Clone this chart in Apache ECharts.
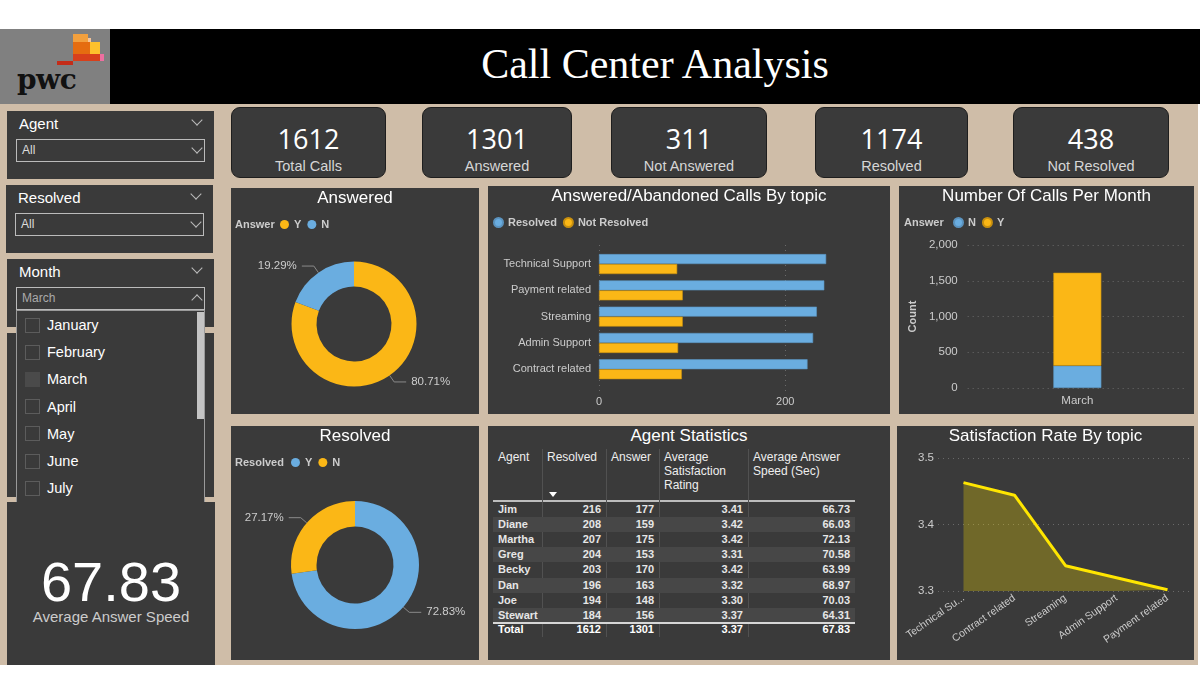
<!DOCTYPE html>
<html><head><meta charset="utf-8">
<script src="https://cdn.jsdelivr.net/npm/echarts@6/dist/echarts.min.js"></script>
<style>
body{margin:0;background:#fff;}
#page{position:relative;width:1200px;height:695px;overflow:hidden;background:#fff;font-family:'Liberation Sans',Arial,sans-serif;}
.chev{position:absolute;width:7px;height:7px;border-right:1.3px solid #bbb;border-bottom:1.3px solid #bbb;transform:rotate(45deg);}
.chevup{position:absolute;width:7px;height:7px;border-left:1.3px solid #bbb;border-top:1.3px solid #bbb;transform:rotate(45deg);}
</style></head><body><div id="page"></div>
<script>
// ---------------- data ----------------
const kpiLabels = ['Total Calls','Answered','Not Answered','Resolved','Not Resolved'];
const kpiValues = [1612,1301,311,1174,438];
const answerCats = ['Y','N'];
const answerCounts = [1301,311];
const resolvedCats = ['Y','N'];
const resolvedCounts = [1174,438];
const topics = ['Technical Support','Payment related','Streaming','Admin Support','Contract related'];
const topicResolved = [244,242,234,230,224];
const topicNotResolved = [84,90,90,85,89];
const months = ['March'];
const monthN = [311];
const monthY = [1301];
const satTopics = ['Technical Support','Contract related','Streaming','Admin Support','Payment related'];
const satRates = [3.463,3.444,3.338,3.32,3.302];
const tableHeaders = ['Agent','Resolved','Answer','Average Satisfaction Rating','Average Answer Speed (Sec)'];
const agents = ['Jim','Diane','Martha','Greg','Becky','Dan','Joe','Stewart'];
const agentResolved = [216,208,207,204,203,196,194,184];
const agentAnswer = [177,159,175,153,170,163,148,156];
const agentSat = ['3.41','3.42','3.42','3.31','3.42','3.32','3.30','3.37'];
const agentSpeed = ['66.73','66.03','72.13','70.58','63.99','68.97','70.03','64.31'];
const tableTotals = ['Total','1612','1301','3.37','67.83'];
const slicerLabels = ['Agent','Resolved','Month'];
const slicerValues = ['All','All','March'];
const monthOptions = ['January','February','March','April','May','June','July'];
const avgAnswerSpeed = '67.83';
const avgAnswerSpeedLabel = 'Average Answer Speed';

// ---------------- helpers ----------------
const page = document.getElementById('page');
const FONT = "'Liberation Sans', Arial, sans-serif";
const BLUE = '#6AADE0', YELLOW = '#FBB716', PANEL = '#3a3a3a';
function el(css, text, parent){
  const d = document.createElement('div');
  d.style.cssText = 'position:absolute;' + css;
  if (text != null) d.textContent = text;
  (parent || page).appendChild(d);
  return d;
}

// background / header
el('left:0;top:104px;width:1198px;height:561px;background:#CFBDA8;');
el('left:0;top:29px;width:110px;height:75px;background:#808080;');
el('left:110px;top:29px;width:1090px;height:75px;background:#000;');
el('left:110px;top:43px;width:1090px;text-align:center;font:42px/42px "Liberation Serif",serif;color:#fff;', 'Call Center Analysis');
// logo
el('left:73px;top:34px;width:15px;height:8px;background:#F2A03E;');
el('left:88px;top:38px;width:3px;height:4px;background:#F6C49A;');
el('left:73px;top:42px;width:17px;height:12px;background:#E56C10;');
el('left:90px;top:42px;width:10px;height:12px;background:#FDC12C;');
el('left:73px;top:54px;width:27px;height:7px;background:#D8401B;');
el('left:100px;top:54px;width:4px;height:7px;background:#EE6FA0;');
el('left:57px;top:61px;width:16px;height:4px;background:#C42C18;');
el('left:17px;top:66px;font:bold 28px/28px "DejaVu Serif",serif;color:#111;letter-spacing:-0.5px;', 'pwc');

// KPI cards
const kpiX = [[231,386],[422,572],[611,767],[815,968],[1013,1169]];
kpiValues.forEach((v,i)=>{
  const c = el(`left:${kpiX[i][0]}px;top:107px;width:${kpiX[i][1]-kpiX[i][0]-2}px;height:69px;background:${PANEL};border:1px solid #1e1e1e;border-radius:9px;`);
  el('left:0;top:17px;width:100%;text-align:center;font:27px/27px "Open Sans",sans-serif;color:#fff;', String(v), c);
  el(`left:0;top:51px;width:100%;text-align:center;font:14.5px/15px ${FONT};color:#d6d6d6;`, kpiLabels[i], c);
});

// slicers
const slicerBox = [[7,111,207],[6,185,207],[7,259,207]];
slicerLabels.forEach((lab,i)=>{
  const [x,y,w] = slicerBox[i];
  const p = el(`left:${x}px;top:${y}px;width:${w}px;height:68px;background:${PANEL};`);
  el(`left:12px;top:5px;font:15px/15px ${FONT};color:#fff;`, lab, p);
  el('left:186px;top:5px;', null, p).className = 'chev';
  const b = el(`left:9px;top:28px;width:187px;height:21px;border:1px solid #bbb;font:12px/21px ${FONT};color:${i===2?'#aaa':'#ddd'};`, null, p);
  el('left:5px;top:0;', slicerValues[i], b);
  if (i===2) el('left:176px;top:8px;', null, b).className = 'chevup';
  else el('left:176px;top:4px;', null, b).className = 'chev';
});
// panel behind dropdown
el(`left:7px;top:333px;width:207px;height:164px;background:${PANEL};`);
// dropdown list
const dd = el(`left:16px;top:310px;width:187px;height:192px;background:${PANEL};border:1px solid #9a9a9a;`);
monthOptions.forEach((m,i)=>{
  const cy = 14 + i*27.2;
  const chk = el(`left:8px;top:${cy-7.5}px;width:13px;height:13px;border:1px solid #5c5c5c;`, null, dd);
  if (m === 'March') { chk.style.background = '#4a4a4a'; chk.style.border = '1px solid #4a4a4a'; }
  el(`left:30px;top:${cy-8}px;font:14.5px/16px ${FONT};color:#fff;`, m, dd);
});
el('left:180px;top:1px;width:7px;height:107px;background:#c4c4c4;', null, dd);

// average answer speed
const sp = el(`left:7px;top:502px;width:208px;height:163px;background:${PANEL};`);
el(`left:0;top:52px;width:100%;text-align:center;font:56px/56px ${FONT};color:#fff;`, avgAnswerSpeed, sp);
el(`left:0;top:107px;width:100%;text-align:center;font:15px/15px ${FONT};color:#ccc;`, avgAnswerSpeedLabel, sp);

// chart panels
const panels = {
  ans:[231,188,248,226], bar:[488,186,402,228], mon:[899,186,295,228],
  res:[231,426,248,234], tab:[488,426,402,234], sat:[897,426,297,234]
};
for (const k in panels){
  const [x,y,w,h] = panels[k];
  el(`left:${x}px;top:${y}px;width:${w}px;height:${h}px;background:${PANEL};`);
}

// table
el(`left:488px;top:426px;width:402px;text-align:center;font:17px/20px ${FONT};color:#fff;`, 'Agent Statistics');
const colX = [493,542,606,659,748,855];
el('left:493px;top:500px;width:362px;height:2px;background:#bdbdbd;');
for (let c=1;c<5;c++) el(`left:${colX[c]}px;top:449px;width:1px;height:188px;background:#515151;`);
tableHeaders.forEach((h,c)=>{
  el(`left:${colX[c]+5}px;top:450px;width:${colX[c+1]-colX[c]-10}px;font:12px/14px ${FONT};color:#eee;`, h);
});
el('left:549px;top:492px;width:0;height:0;border-left:4px solid transparent;border-right:4px solid transparent;border-top:5px solid #fff;');
agents.forEach((a,r)=>{
  const top = 502 + r*15.1;
  if (r%2===1) el(`left:493px;top:${top}px;width:362px;height:15.1px;background:#474747;`);
  const vals = [a, agentResolved[r], agentAnswer[r], agentSat[r], agentSpeed[r]];
  vals.forEach((v,c)=>{
    el(`left:${colX[c]+5}px;top:${top}px;width:${colX[c+1]-colX[c]-10}px;text-align:${c===0?'left':'right'};font:bold 11px/15px ${FONT};color:#e6e6e6;`, String(v));
  });
});
el('left:493px;top:622px;width:362px;height:2px;background:#d6d6d6;');
tableTotals.forEach((v,c)=>{
  el(`left:${colX[c]+5}px;top:622px;width:${colX[c+1]-colX[c]-10}px;text-align:${c===0?'left':'right'};font:bold 11px/15px ${FONT};color:#fff;`, v);
});

// ---------------- charts ----------------
function chartDiv(k){
  const [x,y,w,h] = panels[k];
  return el(`left:${x}px;top:${y}px;width:${w}px;height:${h}px;`);
}
const legendStyle = {color:'#ccc', fontSize:11, fontWeight:'bold', fontFamily:FONT};
function titleOf(text){ return {text, left:'center', top:2, padding:0, textStyle:{color:'#fff', fontSize:17, fontWeight:'normal', fontFamily:FONT}}; }
const dotted = {color:'#6a6a6a', type:[1,4]};

function donut(k, title, legendName, cats, counts, colors, center, radius, legLeft){
  const ch = echarts.init(chartDiv(k));
  ch.setOption({
    animation:false,
    title:[titleOf(title), {text:legendName, left:4, top:31, padding:0, textStyle:legendStyle}],
    legend:{left:legLeft, top:31, padding:0, icon:'circle', itemWidth:9, itemHeight:9, itemGap:6, textStyle:legendStyle, data:cats},
    series:[{
      type:'pie', radius, center, startAngle:90, clockwise:true,
      data: cats.map((c,i)=>({name:c, value:counts[i], itemStyle:{color:colors[i]}})),
      label:{formatter:'{d}%', color:'#ccc', fontSize:11.5, fontFamily:FONT},
      labelLine:{length:8, length2:12, lineStyle:{color:'#8a8a8a', width:1}},
      emphasis:{disabled:true}
    }]
  });
}
donut('ans','Answered','Answer',answerCats,answerCounts,[YELLOW,BLUE],[123,136],[37.5,62.5],49);
donut('res','Resolved','Resolved',resolvedCats,resolvedCounts,[BLUE,YELLOW],[124,139],[38.5,64],60);

// bar by topic
(function(){
  const ch = echarts.init(chartDiv('bar'));
  const xBase = {type:'value', min:0, max:290, interval:200, axisLine:{show:false}, axisTick:{show:false}};
  ch.setOption({
    animation:false,
    title:[titleOf('Answered/Abandoned Calls By topic')],
    legend:{left:5, top:31, padding:0, icon:'circle', itemWidth:9, itemHeight:9, itemGap:6, textStyle:legendStyle, data:['Resolved','Not Resolved']},
    grid:[{left:111, right:21, top:64.9, bottom:31.6}, {left:111, right:21, top:59, bottom:19}],
    xAxis:[
      Object.assign({gridIndex:0, axisLabel:{show:false}, splitLine:{show:false}}, xBase),
      Object.assign({gridIndex:1, axisLabel:{color:'#ccc', fontSize:11, fontFamily:FONT, margin:1, showMaxLabel:false},
        splitLine:{show:true, showMaxLine:false, lineStyle:dotted}}, xBase)
    ],
    yAxis:[
      {gridIndex:0, type:'category', data:topics, inverse:true, axisLine:{show:false}, axisTick:{show:false},
        axisLabel:{color:'#ccc', fontSize:11, fontFamily:FONT, margin:8}},
      {gridIndex:1, type:'value', min:0, max:1, show:false}
    ],
    series:[
      {name:'Resolved', type:'bar', data:topicResolved, barWidth:10, barGap:'0%', itemStyle:{color:BLUE, borderColor:'#5b93bf', borderWidth:0.6}},
      {name:'Not Resolved', type:'bar', data:topicNotResolved, barWidth:10, barGap:'0%', itemStyle:{color:YELLOW, borderColor:'#c8900f', borderWidth:0.6}}
    ]
  });
})();

// calls per month
(function(){
  const ch = echarts.init(chartDiv('mon'));
  ch.setOption({
    animation:false,
    title:[titleOf('Number Of Calls Per Month'), {text:'Answer', left:5, top:31, padding:0, textStyle:legendStyle}],
    legend:{left:54, top:31, padding:0, icon:'circle', itemWidth:9, itemHeight:9, itemGap:6, textStyle:legendStyle, data:['N','Y']},
    grid:{left:61, right:7, top:59, bottom:26},
    xAxis:{type:'category', data:months, axisLine:{show:false}, axisTick:{show:false},
      axisLabel:{color:'#ccc', fontSize:11.5, fontFamily:FONT, margin:7}},
    yAxis:{type:'value', min:0, max:2000, interval:500, name:'Count', nameLocation:'middle', nameGap:49,
      nameTextStyle:{color:'#ccc', fontSize:11, fontWeight:'bold', fontFamily:FONT},
      axisLine:{show:false}, axisTick:{show:false},
      axisLabel:{color:'#ccc', fontSize:11.5, fontFamily:FONT, margin:10},
      splitLine:{lineStyle:dotted}},
    series:[
      {name:'N', type:'bar', stack:'a', data:monthN, barWidth:48, itemStyle:{color:BLUE, borderColor:'#5b93bf', borderWidth:0.6}},
      {name:'Y', type:'bar', stack:'a', data:monthY, barWidth:48, itemStyle:{color:YELLOW, borderColor:'#c8900f', borderWidth:0.6}}
    ]
  });
})();

// satisfaction
(function(){
  const ch = echarts.init(chartDiv('sat'));
  ch.setOption({
    animation:false,
    title:[titleOf('Satisfaction Rate By topic')],
    grid:{left:41, right:1, top:32, bottom:69},
    xAxis:{type:'category', data:satTopics, boundaryGap:true, axisLine:{show:false}, axisTick:{show:false},
      axisLabel:{color:'#ccc', fontSize:10.5, fontFamily:FONT, rotate:35, margin:6, interval:0,
        formatter:v=> v.length>16 ? v.slice(0,12)+'...' : v}},
    yAxis:{type:'value', min:3.3, max:3.5, interval:0.1, axisLine:{show:false}, axisTick:{show:false},
      axisLabel:{color:'#ccc', fontSize:11.5, fontFamily:FONT, margin:4, formatter:v=>v.toFixed(1)},
      splitLine:{lineStyle:dotted}},
    series:[{type:'line', data:satRates, symbol:'none', lineStyle:{color:'#FFE600', width:3},
      areaStyle:{color:'rgba(255,228,0,0.4)'}}]
  });
})();
</script></body></html>
